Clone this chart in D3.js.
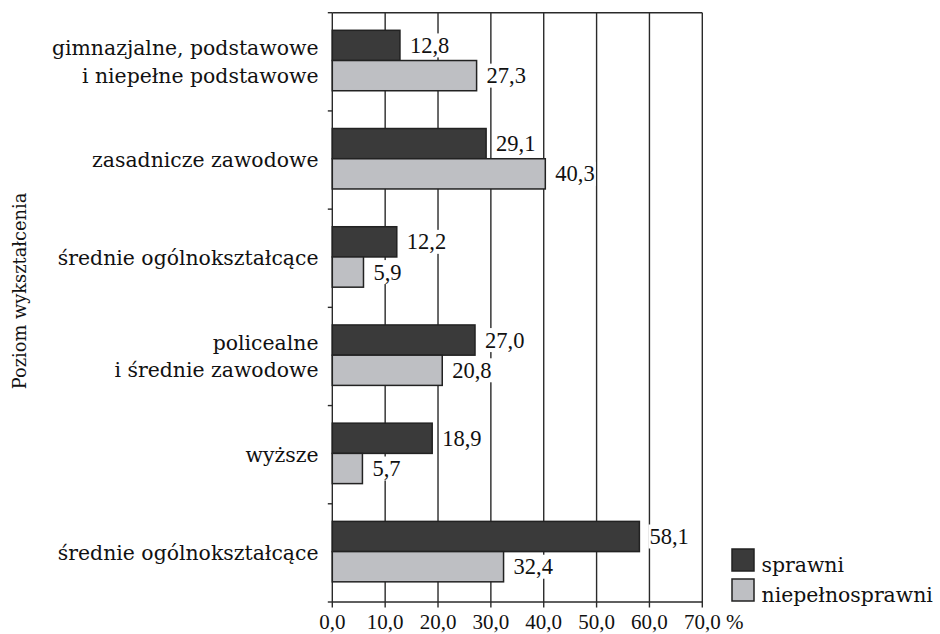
<!DOCTYPE html>
<html><head><meta charset="utf-8">
<script src="https://cdn.jsdelivr.net/npm/d3@7"></script>
<style>body{margin:0;background:#fff}svg{display:block}</style>
</head><body>
<svg id="chart" width="940" height="634"></svg>
<script>
const categories = ["gimnazjalne, podstawowe|i niepełne podstawowe","zasadnicze zawodowe","średnie ogólnokształcące","policealne|i średnie zawodowe","wyższe","średnie ogólnokształcące"];
const sprawni = [12.8, 29.1, 12.2, 27.0, 18.9, 58.1];
const niepelnosprawni = [27.3, 40.3, 5.9, 20.8, 5.7, 32.4];
const seriesNames = ["sprawni","niepełnosprawni"];
const tickValues = [0,10,20,30,40,50,60,70];
const axisTitle = "Poziom wykształcenia";

const svg = d3.select("#chart");
const textFont = "'DejaVu Serif', serif";
const numFont = "'Liberation Serif', serif";
const ink = "#2a2a2a";
const colors = ["#3a3a3a", "#bebfc3"];

const pL = 332.3, pR = 702.3, pT = 12.7, pB = 602;
const x = d3.scaleLinear().domain([0,70]).range([pL,pR]);
const y = d3.scaleBand().domain(d3.range(categories.length)).range([pT,pB]).paddingInner(0).paddingOuter(0);
const y1 = d3.scaleBand().domain([0,1]).range([0,y.bandwidth()]).paddingInner(0).paddingOuter(0.625).align(0.466);
const fmt = v => d3.format(".1f")(v).replace(".", ",");

// grid lines
svg.append("g").selectAll("line").data(tickValues).join("line")
  .attr("x1", d=>x(d)).attr("x2", d=>x(d)).attr("y1", pT).attr("y2", pB+5.5)
  .attr("stroke", ink).attr("stroke-width", 1.4);
svg.append("line").attr("x1", pL).attr("x2", pR).attr("y1", pT).attr("y2", pT).attr("stroke", ink).attr("stroke-width", 1.4);
svg.append("line").attr("x1", pL).attr("x2", pR).attr("y1", pB).attr("y2", pB).attr("stroke", ink).attr("stroke-width", 1.4);
svg.append("g").selectAll("line").data(d3.range(categories.length+1)).join("line")
  .attr("x1", pL-4.5).attr("x2", pL).attr("y1", d=>pT + d*y.step()).attr("y2", d=>pT + d*y.step())
  .attr("stroke", ink).attr("stroke-width", 1.4);

// tick labels
svg.append("g").selectAll("text").data(tickValues).join("text")
  .attr("x", d=>x(d)).attr("y", 629).attr("text-anchor","middle")
  .attr("font-family", numFont).attr("font-size", 21).attr("fill", "#111")
  .text(d=>fmt(d));
svg.append("text").attr("x", 726).attr("y", 629).attr("font-family", numFont).attr("font-size", 21).attr("fill","#111").text("%");

// bars
const data = [];
categories.forEach((c,i)=>{
  data.push({i, s:0, v:sprawni[i]});
  data.push({i, s:1, v:niepelnosprawni[i]});
});
svg.append("g").selectAll("rect").data(data).join("rect")
  .attr("x", x(0)).attr("y", d=>y(d.i)+y1(d.s))
  .attr("width", d=>x(d.v)-x(0)).attr("height", y1.bandwidth())
  .attr("fill", d=>colors[d.s]).attr("stroke", "#222").attr("stroke-width", 1.5);

// value labels with white backgrounds
const lab = svg.append("g");
data.forEach(d=>{
  const cy = y(d.i)+y1(d.s)+y1.bandwidth()/2;
  const g = lab.append("g");
  const bg = g.append("rect").attr("fill","#fff");
  const t = g.append("text").attr("x", x(d.v)+10).attr("y", cy + 7.6)
    .attr("font-family", numFont).attr("font-size", 22.5).attr("fill","#111").text(fmt(d.v));
  const w = t.node().getComputedTextLength();
  bg.attr("x", x(d.v)+9).attr("y", cy-12).attr("width", w+2).attr("height", 24);
});

// category labels
const cl = svg.append("g");
categories.forEach((c,i)=>{
  const lines = c.split("|");
  const lh = 27.5;
  const cy = y(i)+y.bandwidth()/2;
  const first = cy + 7 - (lines.length-1)*lh/2;
  const t = cl.append("text").attr("text-anchor","end")
    .attr("font-family", textFont).attr("font-size", 20.4).attr("fill","#111");
  lines.forEach((ln,k)=>{
    t.append("tspan").attr("x", 318.5).attr("y", first + k*lh).text(ln);
  });
});

// axis title
svg.append("text").attr("transform","translate(26,291) rotate(-90)").attr("text-anchor","middle")
  .attr("font-family", textFont).attr("font-size", 17.8).attr("fill","#111").text(axisTitle);

// legend
const lg = svg.append("g");
seriesNames.forEach((n,k)=>{
  const yy = 549 + k*30;
  lg.append("rect").attr("x", 732).attr("y", yy).attr("width", 22).attr("height", 22)
    .attr("fill", colors[k]).attr("stroke","#222").attr("stroke-width",1.5);
  lg.append("text").attr("x", 761.5).attr("y", yy+22.5).attr("font-family", textFont)
    .attr("font-size", 20.4).attr("fill","#111").text(n);
});
</script>
</body></html>
